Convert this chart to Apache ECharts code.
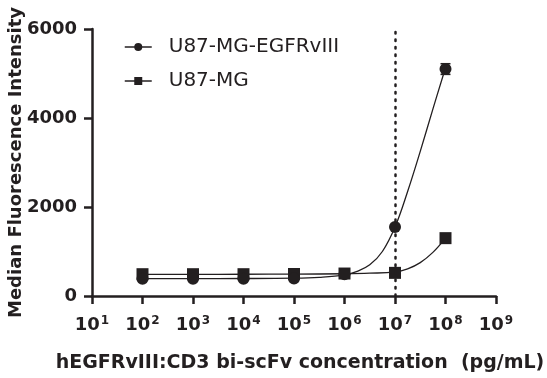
<!DOCTYPE html>
<html><head><meta charset="utf-8">
<script src="https://cdn.jsdelivr.net/npm/echarts@6/dist/echarts.min.js"></script>
<style>html,body{margin:0;padding:0;background:#fff}#c{width:547px;height:378px}</style>
</head><body><div id="c"></div>
<script>
const concentrations = [1e2, 1e3, 1e4, 1e5, 1e6, 1e7, 1e8];
const egfrviiiValues = [390, 390, 390, 395, 490, 1550, 5100];
const egfrviiiErrors = [0, 0, 0, 0, 0, 0, 120];
const u87Values = [490, 490, 490, 495, 505, 520, 1300];
// fitted curves (x, y)
const egfrviiiCurveX = [1e2, 1e3, 1e4, 1e5, 10**5.5, 1e6, 10**6.25, 10**6.5, 10**6.75, 1e7, 10**7.25, 10**7.5, 10**7.75, 1e8];
const egfrviiiCurveY = [392, 392, 393, 400, 420, 475, 555, 700, 1000, 1550, 2350, 3250, 4200, 5130];
const u87CurveX = [1e2, 1e3, 1e4, 1e5, 1e6, 10**6.5, 1e7, 10**7.25, 10**7.5, 10**7.75, 1e8];
const u87CurveY = [488, 488, 489, 492, 500, 512, 540, 610, 750, 980, 1300];
const xTickExponents = [1, 2, 3, 4, 5, 6, 7, 8, 9];
const yTicks = [0, 2000, 4000, 6000];
const markerX = 1e7;

const ink = '#231f20';
const font = 'DejaVu Sans, sans-serif';
const zip = (a, b) => a.map((v, i) => [v, b[i]]);

const chart = echarts.init(document.getElementById('c'), null, {renderer: 'canvas'});
chart.setOption({
  animation: false,
  backgroundColor: '#fff',
  grid: {left: 92, right: 51, top: 29, bottom: 82, containLabel: false, outerBoundsMode: 'none'},
  legend: {
    orient: 'vertical', left: 119, top: 32, itemGap: 14,
    itemWidth: 27, itemHeight: 10,
    textStyle: {fontFamily: font, fontSize: 20, color: ink, padding: [0, 0, 0, 12]},
    lineStyle: {opacity: 1, width: 1.5, color: ink},
    data: ['U87-MG-EGFRvIII', 'U87-MG']
  },
  xAxis: {
    type: 'log', logBase: 10, min: 10 ** xTickExponents[0], max: 10 ** xTickExponents[xTickExponents.length - 1],
    name: 'hEGFRvIII:CD3 bi-scFv concentration  (pg/mL)', nameLocation: 'middle', nameGap: 58, nameMoveOverlap: false,
    nameTextStyle: {fontFamily: font, fontSize: 19, fontWeight: 'bold', color: ink, padding: [0, 0, 0, 12]},
    axisLine: {lineStyle: {color: ink, width: 2.5}},
    axisTick: {show: true, length: 8, lineStyle: {color: ink, width: 2.5}},
    splitLine: {show: false}, minorTick: {show: false},
    axisLabel: {
      margin: 19, color: ink,
      formatter: v => '{b|10}{s|' + Math.round(Math.log10(v)) + '}',
      rich: {
        b: {fontFamily: font, fontSize: 18, fontWeight: 'bold', color: ink},
        s: {fontFamily: font, fontSize: 12, fontWeight: 'bold', color: ink, verticalAlign: 'top', padding: [0, 0, 9, 1]}
      }
    }
  },
  yAxis: {
    type: 'value', min: yTicks[0], max: yTicks[yTicks.length - 1], interval: 2000,
    name: 'Median Fluorescence Intensity', nameLocation: 'middle', nameGap: 67, nameMoveOverlap: false,
    nameTextStyle: {fontFamily: font, fontSize: 18, fontWeight: 'bold', color: ink},
    axisLine: {show: true, lineStyle: {color: ink, width: 2.5}},
    axisTick: {show: true, length: 8, lineStyle: {color: ink, width: 2.5}},
    splitLine: {show: false},
    axisLabel: {margin: 15, fontFamily: font, fontSize: 18, fontWeight: 'bold', color: ink, formatter: v => String(v)}
  },
  series: [
    {
      name: 'U87-MG-EGFRvIII-fit', type: 'line', data: zip(egfrviiiCurveX, egfrviiiCurveY),
      smooth: 0.4, showSymbol: false, lineStyle: {color: ink, width: 1.3}, silent: true, z: 2,
      markLine: {
        silent: true, symbol: 'none', label: {show: false},
        lineStyle: {color: ink, width: 2.5, type: [1.5, 6], cap: 'round'},
        data: [{xAxis: markerX}]
      }
    },
    {
      name: 'U87-MG-fit', type: 'line', data: zip(u87CurveX, u87CurveY),
      smooth: 0.4, showSymbol: false, lineStyle: {color: ink, width: 1.3}, silent: true, z: 2
    },
    {
      name: 'U87-MG-EGFRvIII', type: 'line', data: zip(concentrations, egfrviiiValues),
      symbol: 'circle', symbolSize: 12, showAllSymbol: true,
      itemStyle: {color: ink}, lineStyle: {opacity: 0, color: ink}, z: 4
    },
    {
      name: 'U87-MG', type: 'line', data: zip(concentrations, u87Values),
      symbol: 'rect', symbolSize: 12, showAllSymbol: true,
      itemStyle: {color: ink}, lineStyle: {opacity: 0, color: ink}, z: 3
    },
    {
      name: 'err', type: 'custom', z: 5,
      data: concentrations.map((c, i) => [c, egfrviiiValues[i] - egfrviiiErrors[i], egfrviiiValues[i] + egfrviiiErrors[i]]).filter((d, i) => egfrviiiErrors[i] > 0),
      renderItem: (params, api) => {
        const lo = api.coord([api.value(0), api.value(1)]);
        const hi = api.coord([api.value(0), api.value(2)]);
        const w = 5;
        const st = {stroke: ink, lineWidth: 1.5};
        return {type: 'group', children: [
          {type: 'line', shape: {x1: lo[0], y1: lo[1], x2: hi[0], y2: hi[1]}, style: st},
          {type: 'line', shape: {x1: lo[0] - w, y1: lo[1], x2: lo[0] + w, y2: lo[1]}, style: st},
          {type: 'line', shape: {x1: hi[0] - w, y1: hi[1], x2: hi[0] + w, y2: hi[1]}, style: st}
        ]};
      }
    }
  ]
});
</script></body></html>
